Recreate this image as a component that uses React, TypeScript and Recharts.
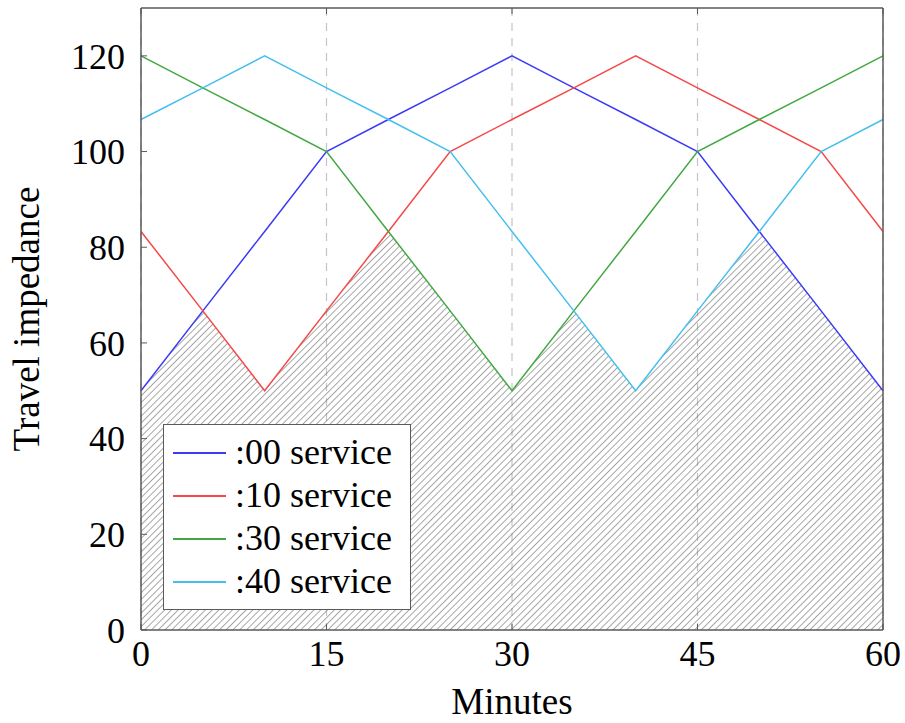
import { Area, CartesianGrid, ComposedChart, Legend, Line, XAxis, YAxis } from 'recharts'

const minutes = [0, 5, 10, 15, 20, 25, 30, 35, 40, 45, 50, 55, 60]
const service00 = [50, 66.7, 83.3, 100, 106.7, 113.3, 120, 113.3, 106.7, 100, 83.3, 66.7, 50]
const service10 = [83.3, 66.7, 50, 66.7, 83.3, 100, 106.7, 113.3, 120, 113.3, 106.7, 100, 83.3]
const service30 = [120, 113.3, 106.7, 100, 83.3, 66.7, 50, 66.7, 83.3, 100, 106.7, 113.3, 120]
const service40 = [106.7, 113.3, 120, 113.3, 106.7, 100, 83.3, 66.7, 50, 66.7, 83.3, 100, 106.7]
const lowerEnvelope = [50, 66.7, 50, 66.7, 83.3, 66.7, 50, 66.7, 50, 66.7, 83.3, 66.7, 50]

const xTicks = [0, 15, 30, 45, 60]
const yTicks = [0, 20, 40, 60, 80, 100, 120]

const series = [
  { key: 's00', name: ':00 service', color: '#3b3bf5' },
  { key: 's10', name: ':10 service', color: '#f54848' },
  { key: 's30', name: ':30 service', color: '#42a842' },
  { key: 's40', name: ':40 service', color: '#45bff0' },
]

const data = minutes.map((m, i) => ({
  m,
  s00: service00[i],
  s10: service10[i],
  s30: service30[i],
  s40: service40[i],
  env: lowerEnvelope[i],
}))

const font = '"Liberation Serif", "DejaVu Serif", serif'
const frame = '#5a5a5a'
const tickStyle = { fontSize: 36, fill: '#000', fontFamily: font }
const labelStyle = { fontSize: 37, fill: '#000', fontFamily: font }

const EmptyTick = () => <g />

const LegendBox = () => (
  <div
    style={{
      border: `1.5px solid ${frame}`,
      background: '#fff',
      width: 248,
      height: 186,
      boxSizing: 'border-box',
      padding: '6px 0 0 9px',
      fontFamily: font,
      fontSize: 36,
      lineHeight: '43px',
      color: '#000',
    }}
  >
    {series.map((s) => (
      <div key={s.key} style={{ display: 'flex', alignItems: 'center', height: 43 }}>
        <div style={{ width: 53, height: 2, background: s.color, marginRight: 9, flexShrink: 0 }} />
        <span style={{ whiteSpace: 'nowrap' }}>{s.name}</span>
      </div>
    ))}
  </div>
)

export default function App() {
  return (
    <div style={{ position: 'absolute', left: 0, top: 0, background: '#fff' }}>
      <ComposedChart width={905} height={723} data={data} margin={{ top: 7, right: 21, left: 0, bottom: 0 }}>
        <defs>
          <pattern id="hatch" patternUnits="userSpaceOnUse" width="4.8" height="4.8" patternTransform="rotate(45)">
            <line x1="0" y1="0" x2="0" y2="4.8" stroke="#666" strokeWidth="1.15" />
          </pattern>
        </defs>
        <CartesianGrid horizontal={false} stroke="#c4c4c4" strokeDasharray="8 7" strokeWidth={1.2} />
        <Area
          type="linear"
          dataKey="env"
          stroke="none"
          fill="url(#hatch)"
          fillOpacity={1}
          isAnimationActive={false}
          legendType="none"
        />
        {series.map((s) => (
          <Line
            key={s.key}
            type="linear"
            dataKey={s.key}
            name={s.name}
            stroke={s.color}
            strokeWidth={1.5}
            dot={false}
            activeDot={false}
            isAnimationActive={false}
          />
        ))}
        <XAxis
          dataKey="m"
          type="number"
          domain={[0, 60]}
          ticks={xTicks}
          height={93}
          tickSize={-6}
          tickMargin={16}
          tick={tickStyle}
          axisLine={{ stroke: frame, strokeWidth: 1.5 }}
          tickLine={{ stroke: frame }}
          label={{ value: 'Minutes', position: 'insideBottom', offset: 9, style: labelStyle }}
        />
        <XAxis
          xAxisId="top"
          orientation="top"
          dataKey="m"
          type="number"
          domain={[0, 60]}
          ticks={xTicks}
          height={1}
          tickSize={-6}
          tick={EmptyTick}
          axisLine={{ stroke: frame, strokeWidth: 1.5 }}
          tickLine={{ stroke: frame }}
        />
        <YAxis
          type="number"
          domain={[0, 130]}
          ticks={yTicks}
          width={141}
          tickSize={-6}
          tickMargin={22}
          tick={tickStyle}
          axisLine={{ stroke: frame, strokeWidth: 1.5 }}
          tickLine={{ stroke: frame }}
          label={{
            value: 'Travel impedance',
            angle: -90,
            position: 'insideLeft',
            offset: 26,
            style: { ...labelStyle, textAnchor: 'middle' },
          }}
        />
        <YAxis
          yAxisId="right"
          orientation="right"
          type="number"
          domain={[0, 130]}
          ticks={yTicks}
          width={1}
          tickSize={-6}
          tick={EmptyTick}
          axisLine={{ stroke: frame, strokeWidth: 1.5 }}
          tickLine={{ stroke: frame }}
        />
        <Legend
          layout="vertical"
          align="center"
          verticalAlign="middle"
          content={<LegendBox />}
          wrapperStyle={{ left: 163, top: 424, width: 'auto' }}
        />
      </ComposedChart>
    </div>
  )
}
